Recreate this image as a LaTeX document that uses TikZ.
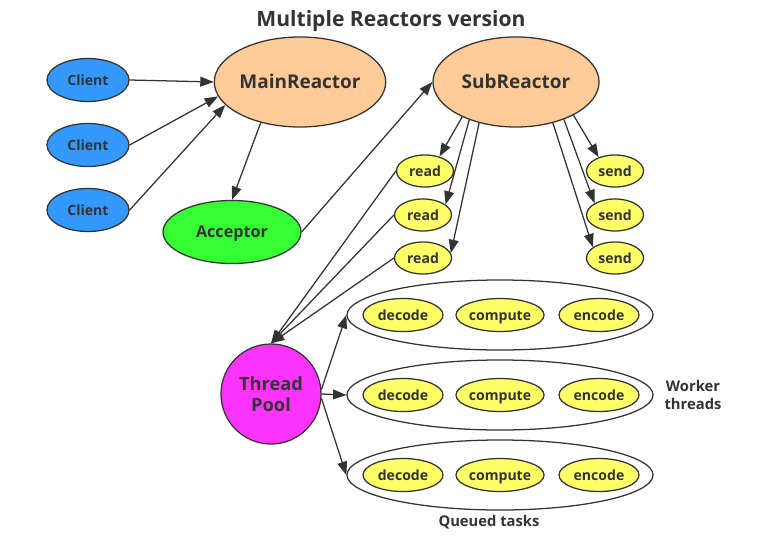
\documentclass[tikz,border=0pt]{standalone}
\usepackage{fontspec}
\setmainfont{Open Sans}
\usepackage{tikz}
\usetikzlibrary{arrows.meta,positioning,shapes.geometric}
\usepackage{xcolor}
\definecolor{ink}{RGB}{51,51,51}
\definecolor{clientblue}{RGB}{51,153,255}
\definecolor{reactorpeach}{RGB}{255,204,153}
\definecolor{acceptgreen}{RGB}{51,255,51}
\definecolor{poolpink}{RGB}{255,51,255}
\definecolor{taskyellow}{RGB}{255,255,102}

\begin{document}
\begin{tikzpicture}[x=0.025cm, y=-0.025cm, >={Triangle[length=9.5pt,width=7pt]},
  blob/.style={ellipse,draw=ink,line width=0.9pt,inner sep=0pt,text=ink,text height=0.78em,text depth=0pt,font=\bfseries\fontsize{10}{12}\selectfont},
  client/.style={blob,fill=clientblue,minimum width=2.05cm,minimum height=1.075cm},
  reactor/.style={blob,fill=reactorpeach,minimum width=4.15cm,minimum height=2.25cm,text height=0.95em,font=\bfseries\fontsize{13.5}{16}\selectfont},
  io/.style={blob,fill=taskyellow,minimum width=1.425cm,minimum height=0.8cm},
  task/.style={blob,fill=taskyellow,minimum width=2.0cm,minimum height=0.825cm},
  worker/.style={blob,fill=white,minimum width=7.65cm,minimum height=1.75cm},
  link/.style={->,line width=0.9pt,draw=ink},
  caption/.style={text=ink,font=\bfseries\fontsize{10.5}{13}\selectfont,align=center}]
  \useasboundingbox (0,0) rectangle (773,537);
  \node[text=ink,font=\bfseries\fontsize{15}{18}\selectfont] (title) at (391,21) {Multiple Reactors version};
  % clients and main reactor
  \node[client] (c1) at (88,80) {Client};
  \node[client] (c2) at (88,145) {Client};
  \node[client] (c3) at (88,210) {Client};
  \node[reactor] (main) at (300,82) {MainReactor};
  \node[blob,fill=acceptgreen,minimum width=3.45cm,minimum height=1.575cm,font=\bfseries\fontsize{11.5}{14}\selectfont] (acc) at (232,232) {Acceptor};
  \node[reactor] (sub) at (516,82) {SubReactor};
  % read / send events
  \node[io] (r1) at (425,171) {read};
  \node[io] (r2) at (423,215) {read};
  \node[io] (r3) at (423,258) {read};
  \node[io] (s1) at (615,171) {send};
  \node[io] (s2) at (615,215) {send};
  \node[io] (s3) at (615,258) {send};
  % thread pool and workers
  \node[circle,draw=ink,line width=0.9pt,fill=poolpink,minimum size=2.5cm,inner sep=0pt,text=ink,align=center,font=\bfseries\fontsize{13}{15}\selectfont] (pool) at (271,394) {Thread\\Pool};
  \foreach \i/\y in {1/315,2/395,3/475} {
    \node[worker] (w\i) at (500,\y) {};
    \node[task] (dec\i) at (403,\y) {decode};
    \node[task,minimum width=2.125cm] (cmp\i) at (500,\y) {compute};
    \node[task] (enc\i) at (599,\y) {encode};
  }
  \node[caption] (wt) at (693,395) {Worker\\threads};
  \node[caption] (qt) at (489,522) {Queued tasks};

  \draw[link] (c1.east) -- (main.west);
  \draw[link] (c2.east) -- (main.190);
  \draw[link] (c3.east) -- (main.197);
  \draw[link] (main.226) -- (acc.north);
  \draw[link] (acc.east) -- (sub.west);
  \draw[link] (sub.213) -- (r1.45);
  \draw[link] (sub.219) -- (r2.25);
  \draw[link] (sub.228) -- (r3.10);
  \draw[link] (sub.330) -- (s1.140);
  \draw[link] (sub.322) -- (s2.150);
  \draw[link] (sub.312) -- (s3.154);
  \draw[link] (r1.west) -- (pool.north);
  \draw[link] (r2.west) -- (pool.north);
  \draw[link] (r3.west) -- (pool.north);
  \draw[link] (pool.5) -- (w1.west);
  \draw[link] (pool.east) -- (w2.west);
  \draw[link] (pool.-5) -- (w3.west);
\end{tikzpicture}
\end{document}
